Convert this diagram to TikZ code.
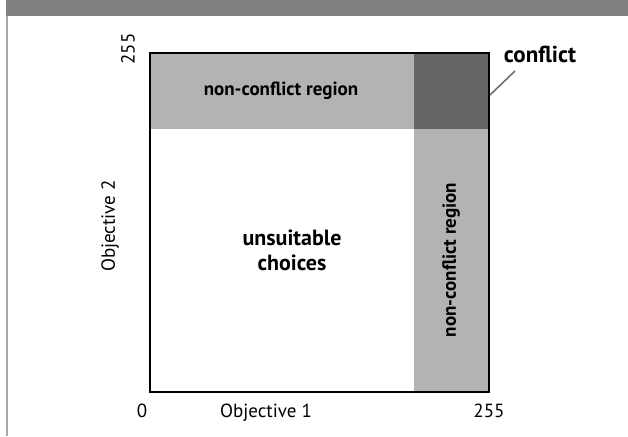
\documentclass[tikz,border=0pt]{standalone}
\usepackage{fontspec}
\setmainfont{PT Sans}
\definecolor{bargray}{HTML}{808080}
\definecolor{sidegray}{HTML}{A8A8A8}
\definecolor{lightg}{HTML}{B3B3B3}
\definecolor{darkg}{HTML}{666666}
\definecolor{leadg}{HTML}{707070}
\begin{document}
\begin{tikzpicture}[x=1pt,y=-1pt,
  axislabel/.style={font=\fontsize{19}{21}\selectfont, inner sep=0pt},
  regionlabel/.style={font=\fontsize{19}{21}\selectfont\bfseries, inner sep=0pt},
  biglabel/.style={font=\fontsize{22}{25}\selectfont\bfseries, inner sep=0pt, align=center},
  frame/.style={draw=black, line width=1.5pt},
  leader/.style={draw=leadg, line width=1.6pt}]
\useasboundingbox (0,0) rectangle (628,436);
% header bar and side rule
\fill[bargray] (6,0) rectangle (628,16);
\draw[sidegray, line width=1.8pt] (7,16) -- (7,436);
% regions
\fill[lightg] (150,53) rectangle (414,129);
\fill[lightg] (414,129) rectangle (489,392);
\fill[darkg] (414,53) rectangle (489,129);
\draw[frame] (150,53) rectangle (489,392);
% region labels
\node[regionlabel] (topreg) at (281,91) {non-conflict region};
\node[regionlabel, rotate=90] (rightreg) at (451,260) {non-conflict region};
\node[biglabel] (unsuit) at (292,250) {unsuitable\\choices};
% conflict label and leader
\node[font=\fontsize{23}{25}\selectfont\bfseries, inner sep=0pt, anchor=base] (conf) at (540,62) {conflict};
\coordinate (cpt) at (490,95);
\coordinate (cend) at (515,71);
\draw[leader] (cpt) -- (cend);
% axis labels
\node[axislabel, rotate=90] (ytop) at (128,49) {255};
\node[axislabel, rotate=90] (ylab) at (110,226) {Objective 2};
\node[axislabel, anchor=base] (xzero) at (142,417) {0};
\node[axislabel, anchor=base] (xlab) at (266,417) {Objective 1};
\node[axislabel, anchor=base] (xtop) at (489,417) {255};
\end{tikzpicture}
\end{document}
